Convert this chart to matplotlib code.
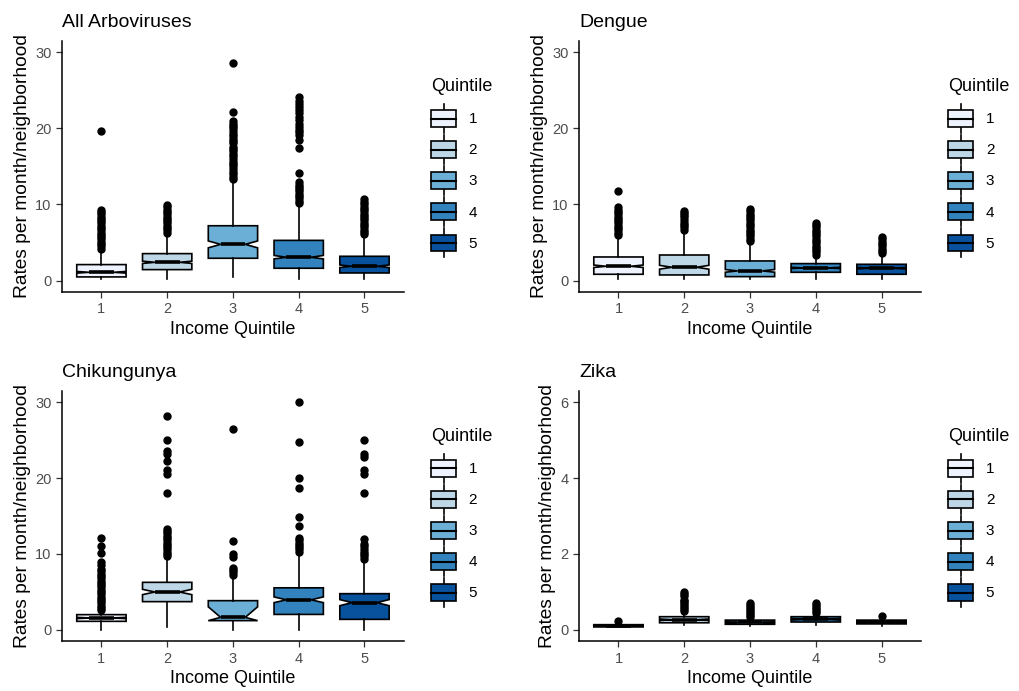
import matplotlib
matplotlib.use('Agg')
import matplotlib.pyplot as plt
from matplotlib.legend_handler import HandlerBase
from matplotlib.patches import Rectangle, Patch
from matplotlib.lines import Line2D

plt.rcParams['font.family'] = ['Liberation Sans', 'DejaVu Sans']

quintiles = ['1', '2', '3', '4', '5']
colors = ['#EFF3FF', '#BDD7E7', '#6BAED6', '#3182BD', '#08519C']

# All Arboviruses
arb_med = [1.09, 2.4, 4.76, 3.06, 1.88]
arb_q1 = [0.48, 1.44, 2.93, 1.62, 1.0]
arb_q3 = [2.1, 3.54, 7.2, 5.28, 3.19]
arb_lo = [0.22, 0.22, 0.48, 0.22, 0.22]
arb_hi = [4.06, 6.16, 13.2, 10.2, 6.03]
arb_cilo = [0.98, 2.25, 4.3, 2.85, 1.72]
arb_cihi = [1.2, 2.55, 5.2, 3.3, 2.05]
arb_fliers = [
    [4.2, 4.5, 4.8, 5.1, 5.4, 5.7, 6.0, 6.3, 6.6, 6.9, 7.2, 7.5, 7.8, 8.1, 8.4, 8.7, 9.0, 9.3, 19.7],
    [6.3, 6.6, 6.9, 7.2, 7.5, 7.8, 8.1, 8.4, 8.7, 9.0, 9.3, 9.6, 9.9],
    [13.3, 13.6, 14.0, 14.3, 14.6, 15.0, 15.3, 15.6, 16.0, 16.3, 16.6, 17.0, 17.3, 17.6,
     18.0, 18.3, 18.6, 19.0, 19.3, 19.6, 20.0, 20.3, 20.6, 20.9, 22.1, 28.5],
    [10.2, 10.5, 10.8, 11.1, 11.4, 11.7, 12.0, 12.3, 12.6, 13.0, 14.1, 17.4, 18.5, 19.1,
     19.5, 19.8, 20.2, 20.6, 21.1, 21.5, 22.0, 22.4, 22.8, 23.2, 23.6, 24.1],
    [6.1, 6.4, 6.7, 7.0, 7.3, 7.6, 7.9, 8.2, 8.5, 8.8, 9.1, 9.4, 9.7, 10.0, 10.3, 10.7],
]

# Dengue
den_med = [1.88, 1.75, 1.27, 1.66, 1.62]
den_q1 = [0.83, 0.74, 0.52, 1.09, 0.83]
den_q3 = [3.1, 3.36, 2.58, 2.23, 2.14]
den_lo = [0.22, 0.22, 0.22, 0.22, 0.22]
den_hi = [5.9, 6.6, 5.1, 3.28, 3.54]
den_cilo = [1.72, 1.5, 1.1, 1.58, 1.52]
den_cihi = [2.04, 2.0, 1.45, 1.75, 1.72]
den_fliers = [
    [6.0, 6.3, 6.6, 6.9, 7.2, 7.5, 7.8, 8.1, 8.4, 8.7, 9.0, 9.3, 9.6, 11.8],
    [6.7, 7.0, 7.3, 7.6, 8.0, 8.3, 8.6, 8.9, 9.2],
    [5.2, 5.5, 5.8, 6.1, 6.4, 6.7, 7.0, 7.3, 7.6, 7.9, 8.2, 8.5, 8.8, 9.1, 9.4],
    [3.4, 3.7, 4.0, 4.3, 4.6, 4.9, 5.2, 5.5, 5.8, 6.1, 6.4, 6.7, 7.0, 7.3, 7.6],
    [3.6, 3.9, 4.2, 4.5, 4.8, 5.1, 5.4, 5.7],
]

# Chikungunya
chik_med = [1.58, 5.0, 1.66, 3.97, 3.6]
chik_q1 = [1.14, 3.73, 1.23, 2.05, 1.4]
chik_q3 = [2.02, 6.27, 3.86, 5.55, 4.78]
chik_lo = [0.05, 0.35, 0.05, 0.05, 0.05]
chik_hi = [2.5, 9.6, 7.1, 10.3, 9.3]
chik_cilo = [1.5, 4.65, 1.23, 3.6, 3.2]
chik_cihi = [1.66, 5.35, 3.05, 4.35, 4.0]
chik_fliers = [
    [2.6, 2.9, 3.2, 3.5, 3.8, 4.1, 4.4, 4.7, 5.0, 5.3, 5.6, 5.9, 6.2, 6.5, 6.8, 7.1, 7.4,
     7.7, 8.0, 8.5, 9.0, 10.1, 11.1, 12.1],
    [9.7, 10.0, 10.3, 10.6, 10.9, 11.2, 11.5, 11.8, 12.1, 12.4, 12.7, 13.0, 13.3, 18.0,
     20.5, 21.0, 22.3, 23.1, 23.6, 25.0, 28.2],
    [7.3, 7.6, 7.9, 8.1, 9.6, 10.0, 11.7, 26.4],
    [10.3, 10.6, 10.9, 11.2, 11.5, 11.8, 12.1, 13.7, 14.9, 18.7, 20.0, 24.8, 30.0],
    [9.4, 9.7, 10.0, 10.3, 10.6, 11.0, 11.3, 12.0, 18.0, 20.5, 21.0, 22.8, 23.2, 25.0],
]

# Zika
zika_med = [0.11, 0.27, 0.2, 0.28, 0.21]
zika_q1 = [0.08, 0.19, 0.15, 0.21, 0.16]
zika_q3 = [0.14, 0.35, 0.26, 0.35, 0.26]
zika_lo = [0.07, 0.12, 0.1, 0.13, 0.1]
zika_hi = [0.17, 0.48, 0.32, 0.42, 0.33]
zika_cilo = [0.1, 0.25, 0.18, 0.26, 0.19]
zika_cihi = [0.12, 0.29, 0.22, 0.3, 0.23]
zika_fliers = [
    [0.24],
    [0.5, 0.55, 0.6, 0.65, 0.7, 0.75, 0.8, 0.9, 0.95, 1.0],
    [0.35, 0.4, 0.45, 0.5, 0.55, 0.6, 0.65, 0.7],
    [0.45, 0.5, 0.55, 0.6, 0.65, 0.7],
    [0.38],
]


class BoxKey(HandlerBase):
    # boxplot glyph for the legend keys, like ggplot's draw_key_boxplot
    def create_artists(self, legend, orig_handle, xdescent, ydescent,
                       width, height, fontsize, trans):
        x0, y0 = -xdescent, -ydescent
        cx = x0 + width / 2
        bh = height * 0.58
        by = y0 + (height - bh) / 2
        whisk = Line2D([cx, cx], [y0, y0 + height], color='black', lw=1.2, transform=trans)
        box = Rectangle((x0, by), width, bh, facecolor=orig_handle.get_facecolor(),
                        edgecolor='black', lw=1.2, transform=trans)
        med = Line2D([x0, x0 + width], [y0 + height / 2] * 2, color='black',
                     lw=1.5, transform=trans)
        return [whisk, box, med]


def draw_panel(ax, title, med, q1, q3, lo, hi, cilo, cihi, fliers, ymax, yticks):
    stats = []
    for i in range(5):
        stats.append(dict(med=med[i], q1=q1[i], q3=q3[i], whislo=lo[i], whishi=hi[i],
                          cilo=cilo[i], cihi=cihi[i], fliers=fliers[i]))
    bp = ax.bxp(stats, positions=range(1, 6), widths=0.75, shownotches=True,
                patch_artist=True, showcaps=False,
                boxprops=dict(edgecolor='black', linewidth=1.2),
                whiskerprops=dict(color='black', linewidth=1.2),
                medianprops=dict(color='black', linewidth=2.6),
                flierprops=dict(marker='o', markerfacecolor='black',
                                markeredgecolor='black', markersize=5))
    for patch, c in zip(bp['boxes'], colors):
        patch.set_facecolor(c)
    ax.set_xlim(0.4, 5.6)
    ax.set_ylim(-0.05 * ymax, 1.05 * ymax)
    ax.set_yticks(yticks)
    ax.set_xticks(range(1, 6))
    ax.set_xticklabels(quintiles)
    for s in ['top', 'right']:
        ax.spines[s].set_visible(False)
    for s in ['left', 'bottom']:
        ax.spines[s].set_linewidth(1.1)
    ax.tick_params(colors='#333333', labelcolor='#4D4D4D', labelsize=10.5,
                   length=4, width=0.9)
    ax.set_title(title, loc='left', fontsize=14, pad=10)
    ax.set_xlabel('Income Quintile', fontsize=13, labelpad=3)
    ax.set_ylabel('Rates per month/neighborhood', fontsize=13.8, labelpad=3)
    handles = [Patch(facecolor=c) for c in colors]
    leg = ax.legend(handles, quintiles, title='Quintile', handler_map={Patch: BoxKey()},
                    loc='center left', bbox_to_anchor=(1.08, 0.494), frameon=False,
                    fontsize=11, title_fontsize=13, alignment='left',
                    handlelength=1.6, handleheight=2.55, labelspacing=0.13,
                    handletextpad=0.85, borderpad=0, borderaxespad=0)
    # a bit more room between the title and the keys
    leg._legend_box.sep = 6.5


fig = plt.figure(figsize=(10.19, 6.91), dpi=100)
ax1 = fig.add_axes([0.0608, 0.5774, 0.3356, 0.3638])
ax2 = fig.add_axes([0.5682, 0.5774, 0.3356, 0.3638])
ax3 = fig.add_axes([0.0608, 0.0718, 0.3356, 0.3629])
ax4 = fig.add_axes([0.5682, 0.0718, 0.3356, 0.3629])

draw_panel(ax1, 'All Arboviruses', arb_med, arb_q1, arb_q3, arb_lo, arb_hi,
           arb_cilo, arb_cihi, arb_fliers, 30, [0, 10, 20, 30])
draw_panel(ax2, 'Dengue', den_med, den_q1, den_q3, den_lo, den_hi,
           den_cilo, den_cihi, den_fliers, 30, [0, 10, 20, 30])
draw_panel(ax3, 'Chikungunya', chik_med, chik_q1, chik_q3, chik_lo, chik_hi,
           chik_cilo, chik_cihi, chik_fliers, 30, [0, 10, 20, 30])
draw_panel(ax4, 'Zika', zika_med, zika_q1, zika_q3, zika_lo, zika_hi,
           zika_cilo, zika_cihi, zika_fliers, 6, [0, 2, 4, 6])

fig.savefig('out.png', dpi=100)
